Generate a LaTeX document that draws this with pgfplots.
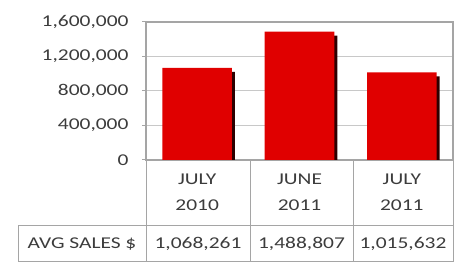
\documentclass[border=0pt]{standalone}
\usepackage{pgfplots}
\pgfplotsset{compat=1.18}
\usepackage{pgfplotstable}
\usepackage{fontspec}
\setmainfont{Carlito}[FakeStretch=1.3]
\definecolor{barred}{RGB}{224,0,0}
\definecolor{shadowc}{RGB}{45,0,0}
\definecolor{txt}{RGB}{60,60,60}
\definecolor{gridc}{RGB}{200,200,200}
\definecolor{linec}{RGB}{165,165,165}
\pgfplotstableread{
x y
0 1068261
1 1488807
2 1015632
}\sales
\begin{document}
\begin{tikzpicture}[x=1pt,y=1pt]
\useasboundingbox (0,0) rectangle (460,264);
\begin{axis}[
  at={(146pt,104pt)}, anchor=south west,
  scale only axis, width=307pt, height=138pt,
  xmin=-0.5, xmax=2.5, ymin=0, ymax=1600000,
  xtick={0,1,2}, xticklabels={{JULY\\2010},{JUNE\\2011},{JULY\\2011}},
  xticklabel style={align=center, font=\fontsize{16.5}{26}\selectfont, text=txt, yshift=-6pt},
  x tick style={draw=none},
  ytick={0,400000,800000,1200000,1600000},
  scaled y ticks=false,
  yticklabels={0,{400,000},{800,000},{1,200,000},{1,600,000}},
  yticklabel style={font=\fontsize{16.5}{16.5}\selectfont, text=txt, xshift=-10pt},
  ymajorgrids, grid style={gridc, line width=1pt},
  axis line style={linec, line width=1.2pt},
  y tick style={linec, line width=1pt},
  major tick length=4pt,
  ytick pos=left,
  tick align=outside,
]
\addplot[ybar, bar width=0.68, bar shift=3pt, yshift=-4pt, fill=shadowc, draw=none] table[x=x,y=y] {\sales};
\addplot[ybar, bar width=0.68, bar shift=0pt, fill=barred, draw=none] table[x=x,y=y] {\sales};
\end{axis}
\draw[linec, line width=1.2pt] (146,242) -- (453,242) -- (453,104);
% table lines
\draw[linec, line width=1pt] (18,38) -- (453,38);
\draw[linec, line width=1pt] (18,2) -- (453,2);
\draw[linec, line width=1pt] (18,2) -- (18,38);
\foreach \xx in {146,250,353,453} \draw[linec, line width=1pt] (\xx,104) -- (\xx,2);
\node[txt, font=\fontsize{16.5}{16.5}\selectfont] at (82,20) {AVG SALES \$};
\node[txt, font=\fontsize{16.5}{16.5}\selectfont] at (198,20) {1,068,261};
\node[txt, font=\fontsize{16.5}{16.5}\selectfont] at (301.5,20) {1,488,807};
\node[txt, font=\fontsize{16.5}{16.5}\selectfont] at (403,20) {1,015,632};
\end{tikzpicture}
\end{document}
